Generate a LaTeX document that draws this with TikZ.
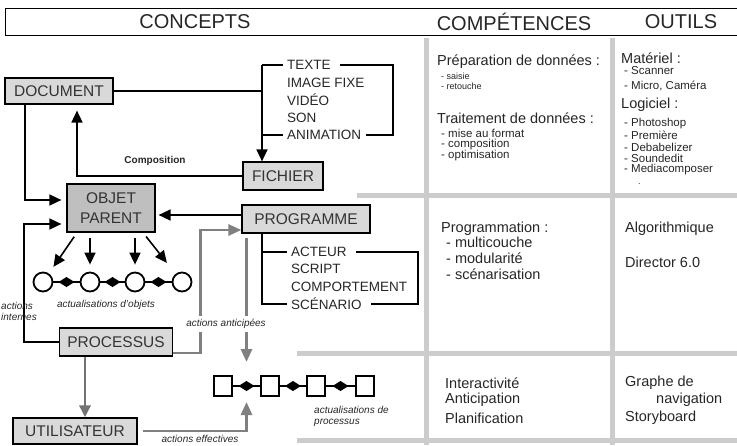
\documentclass[tikz,border=0pt]{standalone}
\usepackage{fontspec}
\setmainfont{Liberation Sans}
\usetikzlibrary{arrows.meta,shapes.geometric,positioning}

\begin{document}
\begin{tikzpicture}[x=1pt,y=-1pt]
	\tikzstyle{every node}=[text=black!85]
	\tikzstyle{box}=[draw, line width=1.2pt, fill=gray!30, text=black!80, inner sep=0pt, font=\fontsize{15.5}{20}\selectfont]
	\tikzstyle{wire}=[line width=1.6pt]
	\tikzstyle{arr}=[line width=1.6pt, -{Triangle[length=12pt,width=11pt]}]
	\tikzstyle{dotarr}=[line width=2.8pt, black!50, -{Triangle[length=13pt,width=11pt]}]
	\tikzstyle{gbar}=[line width=5pt, gray!40]
	\tikzstyle{hd}=[font=\fontsize{20}{22}\selectfont]
	\tikzstyle{lst}=[anchor=west, inner sep=1pt, font=\fontsize{13.5}{15}\selectfont]
	\tikzstyle{big}=[anchor=west, inner sep=0pt, font=\fontsize{14.5}{16}\selectfont]
	\tikzstyle{sml}=[anchor=west, inner sep=0pt, font=\fontsize{11.5}{12}\selectfont]
	\tikzstyle{wee}=[anchor=west, inner sep=0pt, font=\fontsize{9}{10}\selectfont]
	\tikzstyle{lbl}=[font=\itshape\fontsize{10}{11}\selectfont, inner sep=2pt]
	\tikzstyle{ring}=[draw, circle, line width=1.8pt, minimum size=19pt, inner sep=0pt]
	\tikzstyle{sq}=[draw, line width=1.8pt, minimum width=18pt, minimum height=20pt, inner sep=0pt]
	\useasboundingbox (0,0) rectangle (737,445);

	\draw[line width=0.8pt] (5,35) -- (5,8) -- (737,8);
	\draw[line width=0.8pt] (5,35) -- (737,35);
	\node[hd] (hconc) at (195,22) {CONCEPTS};
	\node[hd] (hcomp) at (514,22) {COMPÉTENCES};
	\node[hd] (hout) at (681,22) {OUTILS};

	\draw[gbar] (426,38) -- (426,445);
	\draw[gbar] (612,38) -- (612,445);
	\draw[gbar] (357,195) -- (737,195);
	\draw[gbar] (297,353) -- (737,353);
	\draw[gbar] (297,440) -- (737,440);

	\node[box, minimum width=108pt, minimum height=26pt] (doc) at (59,91) {DOCUMENT};
	\node[box, minimum width=80pt, minimum height=28pt] (fich) at (283,176) {FICHIER};
	\node[box, fill=gray!50, minimum width=88pt, minimum height=48pt, align=center] (objet) at (111,208) {OBJET\\PARENT};
	\node[box, minimum width=128pt, minimum height=28pt] (prog) at (306,219) {PROGRAMME};
	\node[box, minimum width=113pt, minimum height=28pt] (proc) at (116,342) {PROCESSUS};
	\node[box, minimum width=124pt, minimum height=26pt] (util) at (75,431) {UTILISATEUR};

	\foreach \t [count=\i] in {TEXTE,IMAGE FIXE,VIDÉO,SON,ANIMATION}
		\node[lst] (m\i) at (286,47.5+17.5*\i) {\t};
	\coordinate (mt) at (262,65);
	\coordinate (mb) at (262,135);
	\coordinate (mr) at (393,65);
	\draw[wire] (doc.east) -- (doc.east -| mt);
	\draw[wire] (mt) -- (mb);
	\draw[wire, shorten >=3pt] (mt) -- (m1.west);
	\draw[wire, shorten >=3pt] (mb) -- (m5.west);
	\draw[wire, shorten <=8pt, shorten >=4pt] (m1.east) -- (mr) -- (mr |- m5) -- (m5.east);
	\draw[arr] (mb) -- (mb |- fich.north);

	\draw[arr] (fich.west) -| ([xshift=18pt,yshift=-6pt]doc.south);
	\node[font=\bfseries\fontsize{10}{11}\selectfont] (comp) at (155,161) {Composition};
	\draw[arr] ([xshift=-34pt]doc.south) |- ([xshift=-5pt,yshift=8pt]objet.west);
	\draw[arr] (proc.west) -- ++(-35,0) |- ([xshift=-5pt,yshift=-16pt]objet.west);
	\coordinate (pin) at ([yshift=4pt]prog.west);
	\draw[arr, shorten >=3pt] (pin) -- (objet.east |- pin);

	\foreach \x [count=\i] in {43,90,135,182}
		\node[ring] (o\i) at (\x,282) {};
	\foreach \a/\b in {1/2,2/3,3/4} {
		\draw[wire] (o\a) -- coordinate[pos=0.5] (r\a) (o\b);
		\fill (r\a) ++(-8,0) -- ++(8,-5) -- ++(8,5) -- ++(-8,5) -- cycle;
	}
	\draw[arr, shorten <=5pt, shorten >=8pt] ([xshift=-34pt]objet.south) -- (o1);
	\draw[arr, shorten <=5pt, shorten >=7pt] (o2 |- objet.south) -- (o2);
	\draw[arr, shorten <=5pt, shorten >=7pt] (o3 |- objet.south) -- (o3);
	\draw[arr, shorten <=5pt, shorten >=14pt] ([xshift=32pt]objet.south) -- (o4);
	\node[lbl] (aobj) at (106,305) {actualisations d'objets};
	\node[lbl, align=left, anchor=west, inner sep=0pt] (aint) at (1,311) {actions\\internes};

	\foreach \x [count=\i] in {223,270,316,365}
		\node[sq] (s\i) at (\x,386) {};
	\foreach \a/\b in {1/2,2/3,3/4} {
		\draw[wire] (s\a) -- coordinate[pos=0.5] (d\a) (s\b);
		\fill (d\a) ++(-8,0) -- ++(8,-5) -- ++(8,5) -- ++(-8,5) -- cycle;
	}

	\draw[dotarr] ([yshift=-11pt]proc.east) -- ++(27,0) |- ([yshift=-11pt]prog.west);
	\draw[dotarr, shorten <=4pt, shorten >=24pt] (d1 |- prog.south) -- (d1);
	\draw[dotarr, shorten <=5pt, shorten >=16pt] (util.east) -| (d1);
	\node[lbl, fill=white, inner sep=3pt] (aant) at (226,324) {actions anticipées};
	\node[lbl] (aeff) at (200,439) {actions effectives};
	\node[lbl, align=left, anchor=west] (aproc) at (312,416) {actualisations de\\processus};
	\draw[arr, line width=2.8pt, black!55] ([xshift=-31pt]proc.south) -- ([xshift=10pt]util.north);

	\foreach \t [count=\i] in {ACTEUR,SCRIPT,COMPORTEMENT,SCÉNARIO}
		\node[lst] (p\i) at (290,234.7+17.3*\i) {\t};
	\coordinate (pl) at ([xshift=-44pt]prog.south);
	\coordinate (pr) at (418,252);
	\draw[wire, shorten >=3pt] (pl |- p1) -- (p1.west);
	\draw[wire, shorten >=3pt] (pl) |- (p4.west);
	\draw[wire, shorten <=8pt, shorten >=8pt] (p1.east) -- (pr) |- (p4.east);

	\node[big] (cprep) at (437,62) {Préparation de données :};
	\node[wee] (csai) at (441,76) {- saisie};
	\node[wee] (cret) at (441,86) {- retouche};
	\node[big] (ctrait) at (437,118) {Traitement de données :};
	\node[sml] (cmise) at (441,133) {- mise au format};
	\node[sml] (ccomp) at (441,145) {- composition};
	\node[sml] (copt) at (441,156) {- optimisation};
	\node[big] (cprog) at (441,229) {Programmation :};
	\node[big] (cmult) at (446,242) {- multicouche};
	\node[big] (cmod) at (446,258) {- modularité};
	\node[big] (cscen) at (446,274) {- scénarisation};
	\node[big] (cint) at (445,383) {Interactivité};
	\node[big] (cant) at (445,400) {Anticipation};
	\node[big] (cplan) at (445,418) {Planification};

	\node[big] (omat) at (621,58) {Matériel :};
	\node[sml] (oscan) at (624,71) {- Scanner};
	\node[sml] (omic) at (624,86) {- Micro, Caméra};
	\node[big] (olog) at (621,105) {Logiciel :};
	\foreach \t [count=\i] in {Photoshop,Première,Debabelizer,Soundedit,Mediacomposer}
		\node[sml] (l\i) at (624,112.5+11.5*\i) {- \t};
	\node[wee] (ldot) at (638,184) {.};
	\node[big] (oalg) at (625,229) {Algorithmique};
	\node[big] (odir) at (625,262) {Director 6.0};
	\node[big] (ogr) at (625,383) {Graphe de};
	\node[big] (onav) at (656,400) {navigation};
	\node[big] (osto) at (625,418) {Storyboard};
\end{tikzpicture}
\end{document}
